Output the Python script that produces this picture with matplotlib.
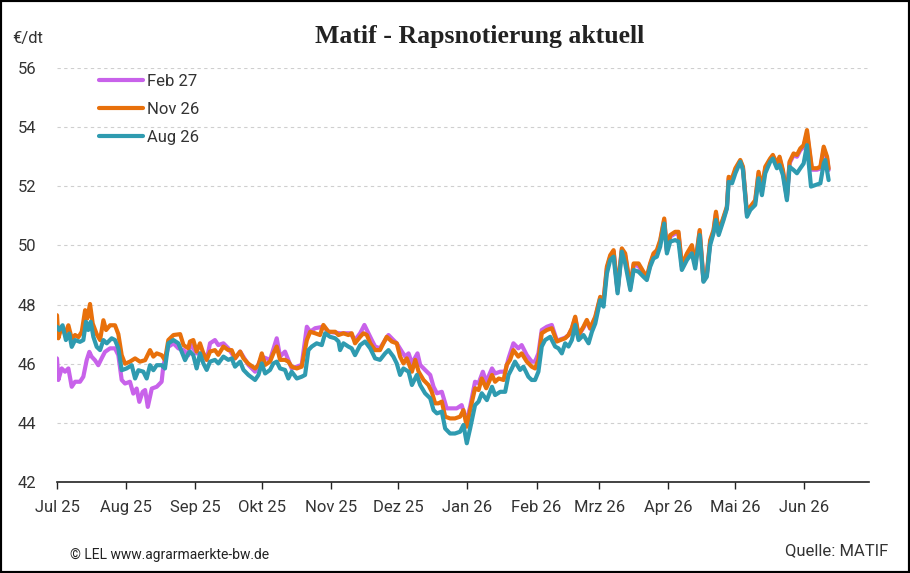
import matplotlib
matplotlib.use('Agg')
import matplotlib.pyplot as plt
import pandas as pd
from matplotlib.patches import Rectangle

# ---------------- data (days since 2025-07-01, EUR/dt) ----------------
START = '2025-07-01'
END = '2026-06-30'

month_labels = ['Jul 25', 'Aug 25', 'Sep 25', 'Okt 25', 'Nov 25', 'Dez 25',
                'Jan 26', 'Feb 26', 'Mrz 26', 'Apr 26', 'Mai 26', 'Jun 26']
series_names = ['Feb 27', 'Nov 26', 'Aug 26']

nov26_days = [0, 0.6, 2.1, 3.6, 5.1, 6.6, 8.1, 9.6, 11.1, 12.6, 13.6, 14.8, 16.0, 17.8, 19.3, 20.8, 22.0, 23.8,
              26.0, 27.5, 29.0, 30.5, 32.7, 35.0, 37.2, 39.5, 41.7, 43.2, 44.7, 46.9, 48.4, 49.9, 52.2, 55.2,
              56.7, 58.9, 59.6, 61.1, 62.6, 64.1, 65.6, 67.1, 68.6, 70.8, 72.3, 74.6, 76.8, 78.3, 79.8, 82.1,
              83.6, 85.8, 88.8, 90.3, 91.8, 93.3, 95.5, 97.0, 98.5, 100.0, 102.2, 103.7, 105.2, 107.5, 109.7,
              112.0, 113.5, 115.7, 117.9, 119.4, 121.7, 124.7, 126.2, 128.4, 130.6, 132.1, 133.6, 135.9, 137.4,
              138.9, 140.4, 142.6, 144.8, 146.3, 147.8, 150.1, 152.3, 153.8, 155.3, 156.8, 159.1, 160.6, 162.1,
              164.3, 166.5, 168.0, 169.5, 171.0, 172.5, 174.0, 176.2, 178.4, 180.7, 182.2, 183.7, 185.2, 187.4,
              189.0, 190.4, 192.4, 195.0, 196.4, 198.0, 200.2, 201.6, 203.1, 204.6, 206.8, 208.3, 210.6, 212.8,
              214.3, 215.8, 217.3, 219.6, 221.8, 224.1, 225.6, 227.8, 229.3, 230.8, 232.3, 233.8, 236.0, 237.5,
              239.0, 241.3, 243.5, 245.0, 246.5, 248.0, 249.5, 251.3, 253.2, 254.7, 257.0, 258.5, 260.7, 262.9,
              264.4, 265.9, 267.4, 268.9, 270.4, 272.2, 273.4, 274.9, 277.1, 278.6, 280.1, 282.4, 284.6, 286.1,
              288.1, 289.8, 291.3, 292.8, 294.3, 295.4, 296.6, 298.8, 300.3, 301.1, 302.6, 304.1, 306.3, 307.5,
              309.3, 310.8, 313.0, 314.5, 316.0, 317.5, 319.7, 320.9, 322.7, 323.9, 325.4, 327.2, 328.4, 330.2,
              331.7, 333.2, 334.7, 336.2, 338.4, 340.7, 342.2, 343.7, 345.2, 345.9]
nov26_vals = [47.64, 46.86, 47.25, 47.00, 47.30, 46.85, 46.97, 46.90, 47.08, 47.81, 47.53, 48.02, 47.36, 47.00,
              46.80, 47.47, 47.14, 47.30, 47.30, 47.00, 46.29, 46.00, 46.07, 46.18, 46.07, 46.12, 46.46, 46.24,
              46.35, 46.29, 46.12, 46.80, 46.97, 47.00, 46.63, 46.52, 46.75, 46.80, 46.41, 46.69, 46.35, 46.13,
              46.41, 46.46, 46.30, 46.58, 46.46, 46.46, 46.18, 46.41, 46.18, 46.00, 45.84, 45.96, 46.35, 45.96,
              46.07, 46.35, 46.58, 46.13, 46.13, 46.07, 45.90, 45.84, 45.90, 46.80, 47.08, 47.03, 46.97, 47.31,
              47.08, 47.08, 46.97, 47.03, 46.97, 47.03, 46.69, 46.91, 47.03, 46.97, 46.69, 46.46, 46.46, 46.69,
              46.91, 46.75, 46.69, 46.24, 46.01, 46.18, 45.73, 46.13, 45.73, 45.45, 45.28, 45.05, 44.66, 44.66,
              44.72, 44.21, 44.15, 44.15, 44.21, 44.43, 43.87, 44.43, 45.17, 45.11, 45.50, 45.17, 45.62, 45.39,
              45.50, 45.45, 45.96, 46.13, 46.46, 46.24, 46.35, 46.07, 45.90, 45.84, 46.13, 47.03, 47.14, 47.20,
              46.75, 46.80, 46.86, 46.97, 47.20, 47.59, 46.97, 47.25, 47.48, 47.20, 47.59, 48.26, 48.15, 49.28,
              49.67, 49.84, 48.49, 49.90, 49.73, 48.60, 49.39, 49.39, 49.11, 48.94, 49.39, 49.73, 49.84, 50.18,
              50.91, 49.84, 50.35, 50.46, 50.46, 49.34, 49.73, 50.01, 49.39, 50.52, 48.83, 49.05, 50.18, 50.52,
              51.14, 50.46, 50.97, 51.31, 52.32, 52.27, 52.61, 52.89, 52.66, 51.08, 51.31, 51.53, 52.49, 51.93,
              52.66, 52.94, 53.06, 52.77, 53.00, 52.55, 51.65, 52.83, 53.11, 53.06, 53.28, 53.39, 53.90, 52.61,
              52.61, 52.66, 53.34, 53.00, 52.60]

aug26_days = [0, 1.0, 2.5, 4.0, 5.5, 6.6, 8.1, 10.3, 11.8, 13.0, 14.0, 15.1, 16.3, 17.8, 19.3, 20.8, 22.3, 24.5,
              26.0, 27.5, 29.0, 31.2, 33.5, 35.0, 36.5, 38.7, 40.2, 41.7, 43.2, 44.7, 46.9, 48.4, 49.9, 52.2,
              54.4, 55.9, 57.4, 58.9, 59.6, 61.1, 62.6, 64.1, 65.6, 67.1, 68.6, 70.8, 72.3, 74.6, 76.8, 78.3,
              79.8, 82.1, 83.6, 85.8, 88.8, 90.3, 91.8, 93.3, 95.5, 97.0, 98.5, 100.0, 102.2, 103.7, 105.2, 107.5,
              109.7, 111.2, 112.7, 114.2, 116.4, 118.7, 120.2, 122.4, 124.7, 126.2, 126.9, 128.4, 130.6, 132.1,
              133.6, 135.9, 138.1, 140.4, 142.6, 144.8, 147.1, 148.6, 150.8, 152.3, 153.8, 155.3, 157.6, 159.1,
              161.3, 162.8, 165.0, 167.3, 168.8, 170.3, 172.5, 174.0, 176.2, 178.4, 180.7, 182.2, 183.7, 185.2,
              187.4, 189.0, 190.4, 192.7, 195.0, 196.4, 198.7, 200.9, 202.4, 203.9, 205.3, 207.6, 209.1, 211.3,
              212.8, 214.3, 215.8, 217.3, 218.8, 221.1, 223.3, 224.8, 226.3, 227.8, 229.3, 230.8, 232.3, 233.8,
              236.0, 238.3, 239.8, 241.3, 243.5, 245.0, 246.5, 248.0, 249.5, 251.3, 253.2, 254.7, 257.0, 258.5,
              260.7, 262.9, 264.4, 265.9, 267.4, 268.9, 270.4, 272.2, 273.4, 274.9, 277.1, 278.6, 280.1, 282.4,
              284.6, 286.1, 288.1, 289.8, 291.3, 292.8, 294.3, 295.4, 296.6, 298.8, 300.3, 301.1, 302.6, 304.1,
              306.3, 307.5, 309.3, 310.8, 313.0, 314.5, 316.0, 317.5, 319.7, 320.9, 322.7, 323.9, 325.4, 327.2,
              328.4, 330.2, 331.7, 333.2, 334.7, 336.2, 338.0, 339.9, 342.2, 343.7, 344.4, 345.9]
aug26_vals = [47.25, 47.14, 47.30, 46.80, 47.02, 46.57, 46.80, 46.74, 46.80, 47.42, 47.14, 47.42, 46.91, 46.57,
              46.46, 46.80, 46.69, 46.86, 46.80, 46.52, 45.78, 45.84, 45.95, 45.50, 45.78, 45.73, 45.50, 45.95,
              45.78, 45.95, 45.95, 45.84, 46.69, 46.80, 46.69, 46.40, 46.12, 46.35, 46.41, 46.29, 45.84, 46.35,
              46.01, 45.79, 46.07, 46.13, 46.01, 46.24, 46.13, 46.18, 45.90, 46.07, 45.79, 45.62, 45.45, 45.62,
              46.01, 45.67, 45.79, 46.01, 46.07, 45.84, 45.79, 45.50, 45.73, 45.50, 45.56, 45.62, 46.46, 46.58,
              46.69, 46.63, 47.03, 46.91, 46.86, 46.75, 46.46, 46.69, 46.58, 46.52, 46.29, 46.63, 46.75, 46.52,
              46.18, 46.13, 46.35, 46.46, 46.24, 46.01, 45.62, 45.84, 45.73, 45.28, 45.62, 45.28, 45.00, 44.83,
              44.43, 44.32, 44.38, 43.81, 43.64, 43.64, 43.70, 43.93, 43.31, 43.81, 44.60, 44.72, 45.00, 44.77,
              45.22, 44.94, 45.05, 45.05, 45.62, 45.84, 46.07, 45.79, 45.90, 45.56, 45.45, 45.45, 45.73, 46.58,
              46.80, 46.91, 46.58, 46.52, 46.35, 46.69, 46.58, 46.80, 47.31, 46.80, 46.97, 46.69, 47.08, 47.36,
              48.15, 47.93, 49.05, 49.51, 49.62, 48.38, 49.79, 49.39, 48.49, 49.17, 49.11, 48.94, 48.83, 49.28,
              49.56, 49.62, 49.96, 50.74, 49.73, 50.13, 50.18, 50.13, 49.17, 49.51, 49.73, 49.22, 50.35, 48.77,
              48.94, 50.01, 50.41, 50.86, 50.35, 50.86, 51.25, 52.15, 52.10, 52.44, 52.83, 52.55, 50.97, 51.20,
              51.37, 52.27, 51.70, 52.44, 52.83, 52.94, 52.61, 52.72, 52.38, 51.53, 52.66, 52.55, 52.44, 52.61,
              52.77, 53.39, 51.99, 52.04, 52.10, 52.77, 52.89, 52.21]

feb27_days = [0, 0.6, 2.1, 3.6, 5.1, 6.6, 8.1, 10.3, 11.8, 13.3, 14.5, 15.5, 17.0, 18.5, 20.0, 21.5, 23.8, 26.0,
              27.5, 29.0, 30.5, 32.7, 34.2, 35.7, 36.9, 38.4, 39.5, 40.7, 42.5, 44.7, 46.9, 47.7, 49.9, 52.2,
              54.4, 56.7, 58.9, 59.6, 62.6, 65.6, 67.1, 68.6, 70.8, 72.3, 74.6, 76.8, 79.8, 82.1, 85.8, 88.8,
              91.8, 95.5, 98.5, 100.0, 102.2, 103.7, 105.2, 109.7, 112.0, 113.5, 115.7, 119.4, 121.7, 126.9,
              131.4, 133.6, 135.9, 137.8, 139.6, 141.1, 142.6, 144.8, 147.1, 148.6, 150.8, 152.3, 154.6, 156.1,
              157.6, 159.1, 161.6, 162.8, 165.0, 167.3, 168.8, 170.3, 172.5, 174.7, 177.0, 179.2, 181.4, 182.9,
              183.7, 185.2, 187.4, 189.0, 190.9, 192.4, 195.0, 196.4, 198.7, 200.9, 202.4, 204.6, 206.8, 208.3,
              210.6, 212.8, 214.3, 215.8, 217.3, 219.6, 221.8, 224.1, 225.6, 227.8, 229.3, 230.8, 232.3, 233.8,
              236.0, 237.5, 239.0, 241.3, 243.5, 245.0, 246.5, 248.0, 249.5, 251.3, 253.2, 254.7, 257.0, 258.5,
              260.7, 262.9, 264.4, 265.9, 267.4, 268.9, 270.4, 272.2, 273.4, 274.9, 277.1, 278.6, 280.1, 282.4,
              284.6, 286.1, 288.1, 289.8, 291.3, 292.8, 294.3, 295.4, 296.6, 298.8, 300.3, 301.1, 302.6, 304.1,
              306.3, 307.5, 309.3, 310.8, 313.0, 314.5, 316.0, 317.5, 319.7, 320.9, 322.7, 323.9, 325.4, 327.2,
              328.4, 330.2, 331.7, 333.2, 334.7, 336.2, 338.4, 340.7, 342.2, 343.7, 345.2, 345.9]
feb27_vals = [46.18, 45.45, 45.84, 45.73, 45.84, 45.22, 45.39, 45.39, 45.56, 46.12, 46.40, 46.24, 46.12, 45.95,
              46.18, 46.40, 46.52, 46.52, 46.29, 45.45, 45.33, 45.39, 44.99, 45.16, 44.71, 45.05, 45.11, 44.54,
              45.16, 45.22, 45.39, 45.95, 46.57, 46.69, 46.52, 46.46, 46.29, 46.69, 46.35, 46.35, 46.13, 46.69,
              46.80, 46.63, 46.69, 46.52, 46.18, 46.41, 45.96, 45.73, 46.24, 46.13, 46.86, 46.24, 46.41, 46.13,
              45.84, 45.96, 47.25, 47.08, 47.20, 47.25, 47.08, 47.03, 47.03, 46.80, 47.03, 47.31, 47.03, 46.80,
              46.58, 46.52, 46.80, 46.97, 46.80, 46.69, 46.41, 46.24, 46.35, 46.01, 46.35, 45.96, 45.79, 45.62,
              45.22, 45.00, 45.05, 44.49, 44.49, 44.49, 44.60, 44.21, 44.10, 44.55, 45.39, 45.34, 45.73, 45.39,
              45.84, 45.67, 45.73, 45.73, 46.18, 46.69, 46.52, 46.63, 46.29, 46.07, 46.07, 46.35, 47.14, 47.25,
              47.31, 46.78, 46.82, 46.88, 46.97, 47.18, 47.55, 46.95, 47.22, 47.44, 47.18, 47.55, 48.22, 48.10,
              49.22, 49.62, 49.80, 48.45, 49.85, 49.66, 48.56, 49.35, 49.30, 49.02, 48.90, 49.34, 49.68, 49.78,
              50.12, 50.86, 49.80, 50.30, 50.40, 50.40, 49.28, 49.68, 49.95, 49.34, 50.47, 48.80, 49.00, 50.12,
              50.47, 51.08, 50.42, 50.92, 51.27, 52.26, 52.22, 52.55, 52.85, 52.62, 51.03, 51.26, 51.48, 52.42,
              51.88, 52.60, 52.90, 53.01, 52.72, 52.95, 52.50, 51.60, 52.78, 53.05, 53.00, 53.22, 53.33, 53.80,
              52.56, 52.56, 52.60, 53.26, 52.94, 52.55]

colors = ['#C862EA', '#E8700B', '#2F9BB0']

# ---------------- figure ----------------
plt.rcParams['font.family'] = ['Roboto', 'DejaVu Sans']
fig = plt.figure(figsize=(9.1, 5.73), dpi=100)
ax = fig.add_axes([57 / 910, 1 - 482 / 573, 812 / 910, 414 / 573])

start = pd.Timestamp(START)


def to_dates(days):
    return start + pd.to_timedelta(days, unit='D')


all_days = [feb27_days, nov26_days, aug26_days]
all_vals = [feb27_vals, nov26_vals, aug26_vals]
for name, d, v, c in zip(series_names, all_days, all_vals, colors):
    ax.plot(to_dates(d), v, color=c, lw=3.0, solid_joinstyle='round',
            solid_capstyle='round', label=name)

ax.set_xlim(start, pd.Timestamp(END))
ax.set_ylim(42, 56)
ax.set_yticks(range(42, 57, 2))
ax.yaxis.grid(True, linestyle=(0, (3, 3)), color='#cfcfcf', lw=0.8)
ax.set_axisbelow(True)

months = pd.date_range(START, periods=12, freq='MS')
ax.set_xticks(months)
ax.set_xticklabels(month_labels)

for s in ['top', 'right', 'left']:
    ax.spines[s].set_visible(False)
ax.spines['bottom'].set_color('#222222')
ax.spines['bottom'].set_linewidth(1.2)

ax.tick_params(axis='x', direction='out', length=5, width=1, color='#222222',
               pad=8, labelsize=12, labelcolor='#333333')
ax.tick_params(axis='y', length=0, pad=15, labelsize=12, labelcolor='#333333')

leg = ax.legend(loc='upper left', bbox_to_anchor=(0.052, 0.985), frameon=False,
                handlelength=2.6, handletextpad=0.25, labelspacing=0.78,
                borderaxespad=0, borderpad=0, fontsize=12)
for t in leg.get_texts():
    t.set_color('#333333')

fig.text(480 / 910, 1 - 37 / 573, 'Matif - Rapsnotierung aktuell', ha='center', va='center',
         fontsize=18.5, fontweight='bold', family=['Liberation Serif', 'DejaVu Serif'], color='#222222')
fig.text(12 / 910, 1 - 38 / 573, '€/dt', ha='left', va='center', fontsize=12, color='#333333')
fig.text(70 / 910, 1 - 555 / 573, '© LEL www.agrarmaerkte-bw.de', ha='left', va='center',
         fontsize=10, color='#222222')
fig.text(888 / 910, 1 - 551 / 573, 'Quelle: MATIF', ha='right', va='center',
         fontsize=12, color='#333333')

fig.patches.append(Rectangle((0, 0), 1, 1, transform=fig.transFigure, fill=False,
                             edgecolor='black', lw=3))

fig.savefig('out.png', dpi=100)
